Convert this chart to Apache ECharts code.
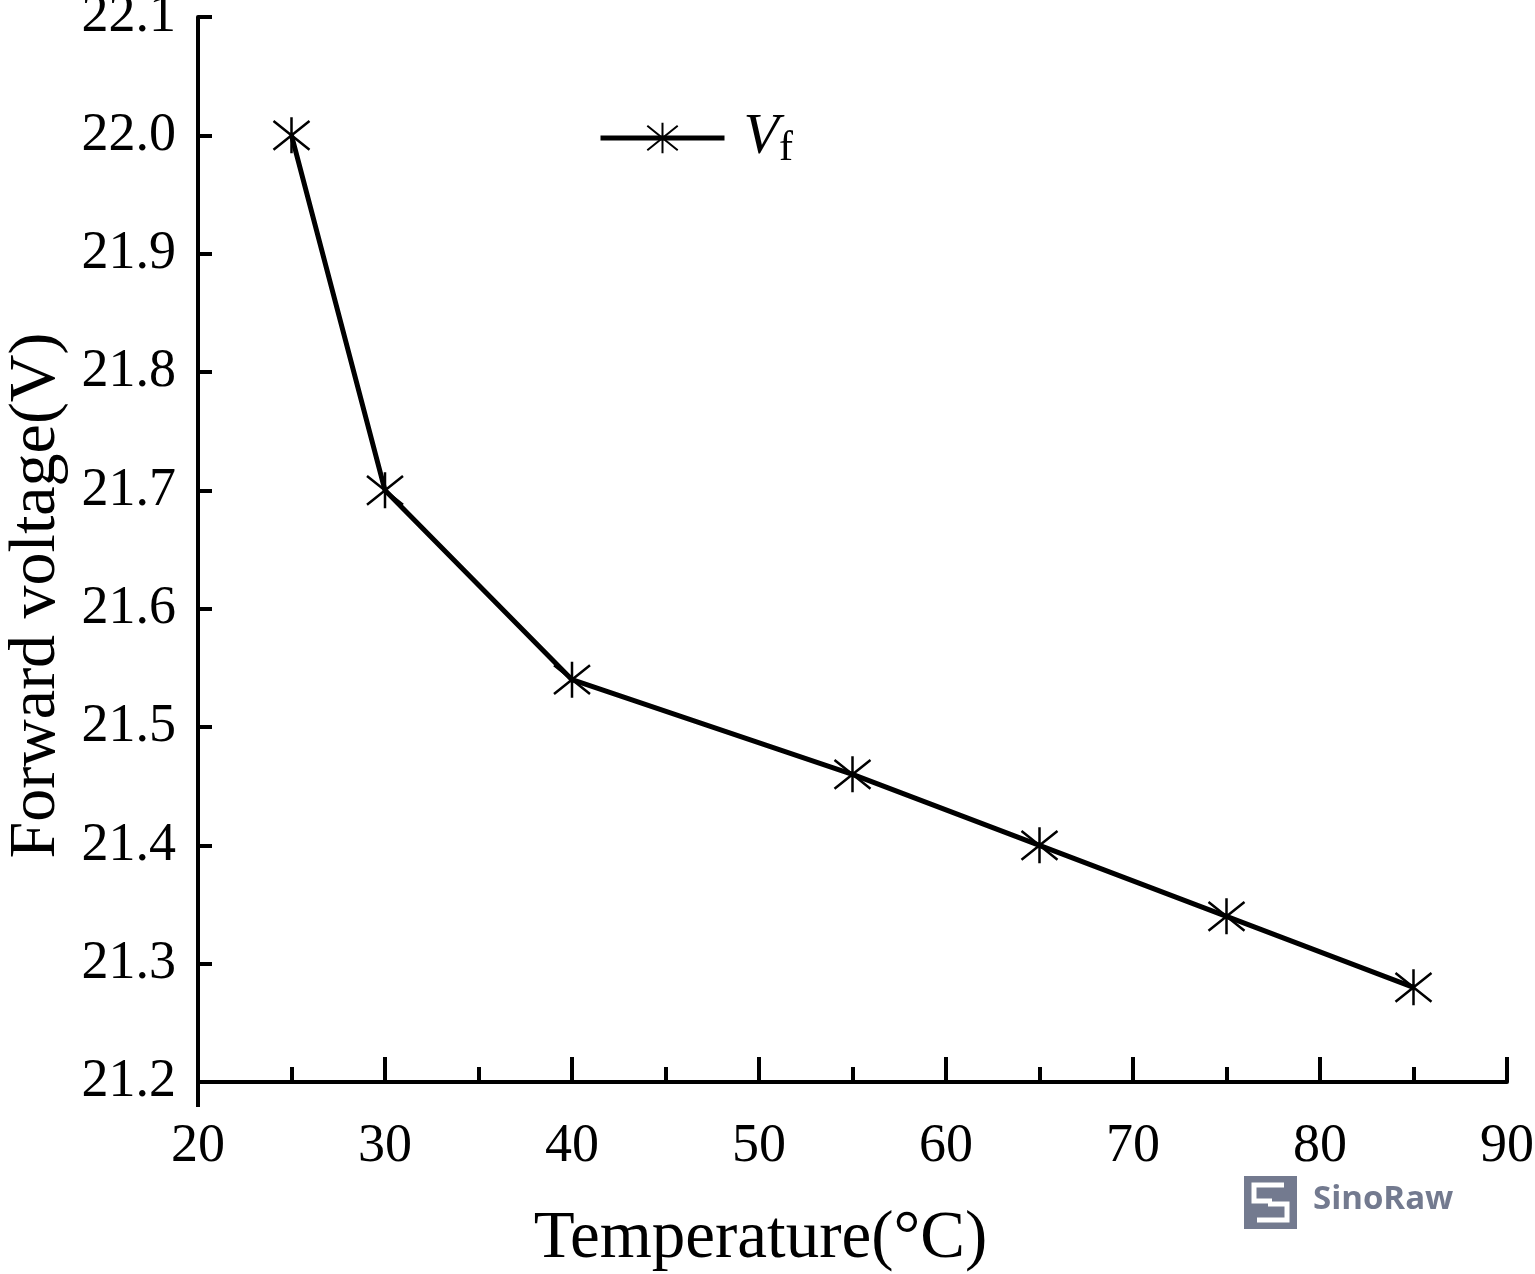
<!DOCTYPE html>
<html>
<head>
<meta charset="utf-8">
<script src="https://cdn.jsdelivr.net/npm/echarts@6/dist/echarts.min.js"></script>
<style>
  html, body { margin: 0; padding: 0; background: #fff; }
  #chart { width: 1535px; height: 1274px; }
</style>
</head>
<body>
<div id="chart"></div>
<script>
// temperature (°C) and forward voltage (V)
const temps = [25, 30, 40, 55, 65, 75, 85];
const vf = [22.0, 21.7, 21.54, 21.46, 21.40, 21.34, 21.28];
const xTicks = { min: 20, max: 90, step: 10 };
const yTicks = { min: 21.2, max: 22.1, step: 0.1 };

const SERIF = "'Liberation Serif', 'DejaVu Serif', serif";
const STAR = "path://M0,-1L0,1M-1,-0.8L1,0.8M-1,0.8L1,-0.8";

const chart = echarts.init(document.getElementById("chart"));

chart.setOption({
  animation: false,
  backgroundColor: "#fff",
  grid: { left: 198, top: 17, right: 28, bottom: 192, containLabel: false, outerBoundsMode: "none" },
  legend: {
    left: 593,
    top: 104,
    itemWidth: 124,
    itemHeight: 38,
    itemGap: 0,
    lineStyle: { width: 5, color: "#000" },
    textStyle: {
      fontFamily: SERIF,
      color: "#000",
      padding: [0, 0, 0, 14],
      rich: {
        v: { fontFamily: SERIF, fontStyle: "italic", fontSize: 58, color: "#000" },
        s: { fontFamily: SERIF, fontSize: 42, color: "#000", padding: [22, 0, 0, 0] }
      }
    },
    formatter: () => "{v|V}{s|f}",
    data: ["Vf"]
  },
  xAxis: {
    type: "value",
    min: xTicks.min,
    max: xTicks.max,
    interval: xTicks.step,
    name: "Temperature(°C)",
    nameLocation: "middle",
    nameGap: 124,
    nameTextStyle: { fontFamily: SERIF, fontSize: 67, color: "#000", padding: [0, 184, 0, 0] },
    axisLine: { lineStyle: { color: "#000", width: 4 } },
    axisTick: { inside: true, length: 25, lineStyle: { color: "#000", width: 4 } },
    minorTick: { show: true, splitNumber: 2, length: 15, lineStyle: { color: "#000", width: 4 } },
    axisLabel: { fontFamily: SERIF, fontSize: 54, color: "#000", margin: 38 },
    splitLine: { show: false }
  },
  yAxis: {
    type: "value",
    min: yTicks.min,
    max: yTicks.max,
    interval: yTicks.step,
    name: "Forward voltage(V)",
    nameLocation: "middle",
    nameGap: 128,
    nameTextStyle: { fontFamily: SERIF, fontSize: 66, color: "#000", padding: [0, 92, 0, 0] },
    axisLine: { show: true, lineStyle: { color: "#000", width: 4 } },
    axisTick: { show: true, inside: true, length: 14, lineStyle: { color: "#000", width: 4 } },
    axisLabel: {
      fontFamily: SERIF, fontSize: 54, color: "#000", margin: 22,
      formatter: v => v.toFixed(1)
    },
    splitLine: { show: false }
  },
  graphic: [
    // y axis runs on a little below the x axis
    { type: "line", shape: { x1: 198, y1: 1080, x2: 198, y2: 1107 }, style: { stroke: "#000", lineWidth: 4 } },
    // logo
    { type: "rect", shape: { x: 1244, y: 1176, width: 53, height: 53 }, style: { fill: "#737a8f" } },
    { type: "polyline", shape: { points: [[1284, 1185], [1254, 1185], [1254, 1201], [1272, 1201]] },
      style: { stroke: "#fff", lineWidth: 5, fill: null } },
    { type: "polyline", shape: { points: [[1268, 1204], [1287, 1204], [1287, 1220], [1257, 1220]] },
      style: { stroke: "#fff", lineWidth: 5, fill: null } },
    { type: "text", x: 1313, y: 1200,
      style: { text: "SinoRaw", fill: "#737a8f", font: "bold 33px 'Open Sans', Roboto, sans-serif", verticalAlign: "middle" } }
  ],
  series: [
    {
      name: "Vf",
      type: "line",
      data: temps.map((t, i) => [t, vf[i]]),
      symbol: STAR,
      symbolSize: 36,
      lineStyle: { color: "#000", width: 5 },
      itemStyle: { color: "#000", borderColor: "#000", borderWidth: 2.5 }
    }
  ]
});
</script>
</body>
</html>
